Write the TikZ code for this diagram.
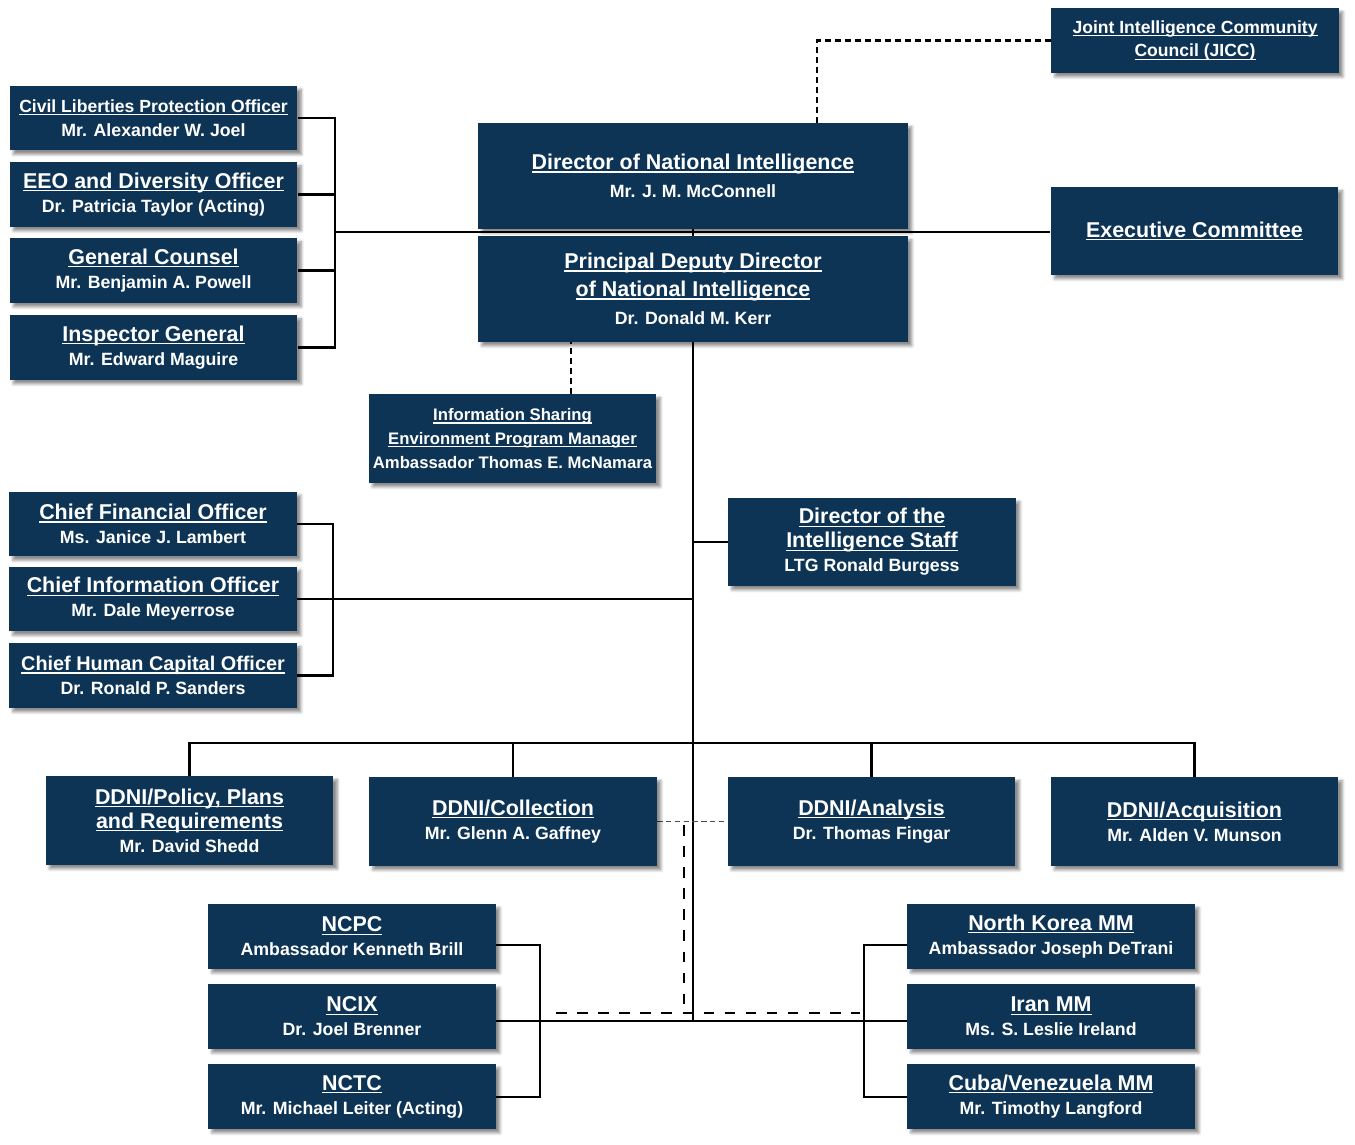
\documentclass[tikz,border=0pt]{standalone}
\usepackage{fontspec}
\setmainfont{Liberation Sans}
\usetikzlibrary{calc,backgrounds,shadows.blur}

\newsavebox\undlbox
\newcommand\undl[1]{\sbox\undlbox{#1}\rlap{\rule[-1.7pt]{\wd\undlbox}{0.7pt}}\usebox\undlbox}
\newcommand\ttl[1]{{\fontsize{12.2}{13.6}\selectfont\undl{#1}}}
\newcommand\sttl[1]{{\fontsize{10}{13.6}\selectfont\undl{#1}}}
\newcommand\ittl[1]{{\fontsize{9.5}{13.6}\selectfont\undl{#1}}}
\newcommand\nm[1]{{\fontsize{10.1}{13.6}\selectfont #1}}

\definecolor{navy}{RGB}{13,52,85}

\tikzset{
	office/.style={fill=navy, text=white, font=\bfseries\fontsize{10.1}{13.6}\selectfont,
		align=center, inner sep=0pt, minimum width=5.76cm, minimum height=1.3cm,
		blur shadow={shadow xshift=2.2pt, shadow yshift=-2.2pt, shadow blur radius=1.6pt, shadow opacity=45}},
	bigoffice/.style={office, minimum height=1.78cm},
	link/.style={line width=1.35pt},
	dotlink/.style={line width=1.4pt, dash pattern=on 3.4pt off 2.3pt},
	dashlink/.style={line width=1.5pt, dash pattern=on 6pt off 6pt},
	thinlink/.style={line width=0.6pt, black!70, dash pattern=on 3pt off 2pt}
}

\begin{document}
\begin{tikzpicture}[x=0.02cm, y=-0.02cm]
	\useasboundingbox (0,0) rectangle (1355,1145);

	% top
	\node[office] (jicc) at (1195,40.5) {\sttl{Joint Intelligence Community}\\\sttl{Council (JICC)}};
	\node[office, minimum width=8.6cm, minimum height=2.12cm] (dni) at (693,176)
		{\ttl{Director of National Intelligence}\\[2.3pt]\nm{Mr. J. M. McConnell}};
	\node[office, minimum width=8.6cm, minimum height=2.12cm] (pddni) at (693,289)
		{\ttl{Principal Deputy Director}\\[2.3pt]\ttl{of National Intelligence}\\[2.3pt]\nm{Dr. Donald M. Kerr}};
	\node[office, minimum height=1.76cm] (exec) at (1194.5,231) {\ttl{Executive Committee}};

	% staff
	\node[office] (clpo) at (153.5,118) {\sttl{Civil Liberties Protection Officer}\\\nm{Mr. Alexander W. Joel}};
	\node[office] (eeo) at (153.5,194.5) {\ttl{EEO and Diversity Officer}\\\nm{Dr. Patricia Taylor (Acting)}};
	\node[office] (gc) at (153.5,270.5) {\ttl{General Counsel}\\\nm{Mr. Benjamin A. Powell}};
	\node[office] (ig) at (153.5,347.5) {\ttl{Inspector General}\\\nm{Mr. Edward Maguire}};

	\node[bigoffice] (ise) at (512.5,438.5) {\ittl{Information Sharing}\\\ittl{Environment Program Manager}\\
		{\fontsize{9.5}{13.6}\selectfont Ambassador Thomas E. McNamara}};
	\node[bigoffice, minimum height=1.76cm] (dis) at (872,542) {\ttl{Director of the}\\\ttl{Intelligence Staff}\\\nm{LTG Ronald Burgess}};

	\node[office] (cfo) at (153,524) {\ttl{Chief Financial Officer}\\\nm{Ms. Janice J. Lambert}};
	\node[office] (cio) at (153,599) {\ttl{Chief Information Officer}\\\nm{Mr. Dale Meyerrose}};
	\node[office] (chco) at (153,675.5) {{\fontsize{11.3}{13.6}\selectfont\undl{Chief Human Capital Officer}}\\\nm{Dr. Ronald P. Sanders}};

	% deputies
	\node[bigoffice] (ddpol) at (189.5,820.5) {\ttl{DDNI/Policy, Plans}\\\ttl{and Requirements}\\\nm{Mr. David Shedd}};
	\node[bigoffice] (ddcol) at (513,821.5) {\ttl{DDNI/Collection}\\\nm{Mr. Glenn A. Gaffney}};
	\node[bigoffice] (ddana) at (871.5,821.5) {\ttl{DDNI/Analysis}\\\nm{Dr. Thomas Fingar}};
	\node[bigoffice] (ddacq) at (1194.5,821.5) {\ttl{DDNI/Acquisition}\\\nm{Mr. Alden V. Munson}};

	% centers and mission managers
	\node[office] (ncpc) at (352,936.5) {\ttl{NCPC}\\\nm{Ambassador Kenneth Brill}};
	\node[office] (ncix) at (352,1016.5) {\ttl{NCIX}\\\nm{Dr. Joel Brenner}};
	\node[office] (nctc) at (352,1096.5) {\ttl{NCTC}\\\nm{Mr. Michael Leiter (Acting)}};
	\node[office] (nkmm) at (1051,936.5) {\ttl{North Korea MM}\\\nm{Ambassador Joseph DeTrani}};
	\node[office] (iran) at (1051,1016.5) {\ttl{Iran MM}\\\nm{Ms. S. Leslie Ireland}};
	\node[office] (cuba) at (1051,1096.5) {\ttl{Cuba/Venezuela MM}\\\nm{Mr. Timothy Langford}};

	\coordinate (lbr) at (335,232);
	\coordinate (sbr) at (333,599);
	\coordinate (jtap) at (817,123);
	\coordinate (isetap) at (571,394);
	\coordinate (bus) at (692,743);
	\coordinate (hub) at (692,1021);
	\coordinate (cbr) at (540,1021);
	\coordinate (mbr) at (864,1021);
	\coordinate (dtap) at (684,825);
	\coordinate (dleft) at (556,1013);
	\coordinate (dright) at (860,1013);

	\begin{scope}[on background layer]
		\draw[link] (clpo.east) -- (clpo.east -| lbr) -- (ig.east -| lbr) -- (ig.east);
		\draw[link] (eeo.east) -- (eeo.east -| lbr);
		\draw[link] (gc.east) -- (gc.east -| lbr);
		\draw[link] (lbr) -- (lbr -| exec.west);
		\draw[dotlink] (jtap) |- (jicc.west);
		\draw[dotlink] (isetap) -- (isetap |- pddni.south);
		\draw[link] (dni.south) -- (dni.south |- hub);
		\draw[link] (dis.west) -- (dis.west -| dni.south);
		\draw[link] (cfo.east) -- (cfo.east -| sbr) -- (chco.east -| sbr) -- (chco.east);
		\draw[link] (cio.east) -- (cio.east -| dni.south);
		\draw[link] (ddpol.north) -- (ddpol.north |- bus) -- (ddacq.north |- bus) -- (ddacq.north);
		\draw[link] (ddcol.north) -- (ddcol.north |- bus);
		\draw[link] (ddana.north) -- (ddana.north |- bus);
		\draw[thinlink] (ddcol.east) -- (ddana.west);
		\draw[dashlink] (dtap) -- (dtap |- dleft);
		\draw[dashlink] (dleft) -- (dright);
		\draw[link] (ncix.east |- hub) -- (iran.west |- hub);
		\draw[link] ($(ncpc.east)+(0,8.5)$) -| (cbr) |- ($(nctc.east)+(0,0.5)$);
		\draw[link] ($(nkmm.west)+(0,8.5)$) -| (mbr) |- ($(cuba.west)+(0,0.5)$);
	\end{scope}
\end{tikzpicture}
\end{document}
